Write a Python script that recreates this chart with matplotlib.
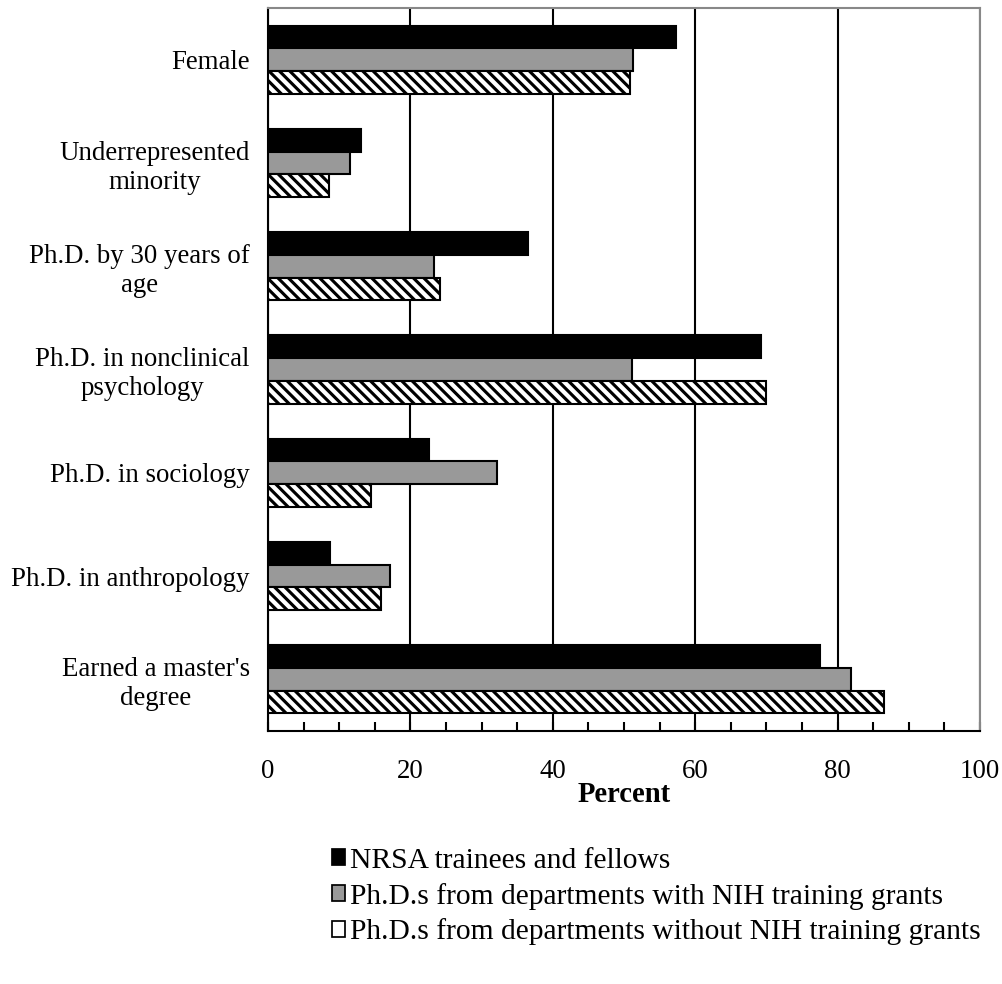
import numpy as np
import matplotlib.pyplot as plt
from matplotlib.patches import Patch
from matplotlib.ticker import MultipleLocator

plt.rcParams['font.family'] = 'Liberation Serif'
plt.rcParams['hatch.linewidth'] = 1.8

categories = ['Female', 'Underrepresented\nminority', 'Ph.D. by 30 years of\nage',
              'Ph.D. in nonclinical\npsychology', 'Ph.D. in sociology',
              'Ph.D. in anthropology', "Earned a master's\ndegree"]
nrsa = [57.3, 13.1, 36.5, 69.2, 22.6, 8.7, 77.5]
with_grants = [51.3, 11.5, 23.3, 51.1, 32.2, 17.1, 81.9]
without_grants = [50.8, 8.6, 24.2, 69.9, 14.5, 15.9, 86.5]
series_names = ['NRSA trainees and fellows',
                'Ph.D.s from departments with NIH training grants',
                'Ph.D.s from departments without NIH training grants']

fs = 15.5

fig = plt.figure(figsize=(8.024, 7.872), dpi=125)
ax = fig.add_axes([268 / 1003, 1 - 731 / 984, 712 / 1003, 723 / 984])

y = np.arange(len(categories))
h = 0.22
ax.barh(y - h, nrsa, h, color='black', edgecolor='black', linewidth=1.2, zorder=3)
ax.barh(y, with_grants, h, color='#999999', edgecolor='black', linewidth=1.2, zorder=3)
ax.barh(y + h, without_grants, h, color='white', edgecolor='black', hatch='\\\\\\\\',
        linewidth=1.2, zorder=3)

ax.set_ylim(len(categories) - 0.5, -0.5)
ax.set_xlim(0, 100)
ax.set_yticks(y)
ax.set_yticklabels(categories, fontsize=fs, multialignment='center')
ax.tick_params(axis='y', length=0, pad=10.5)

ax.xaxis.set_major_locator(MultipleLocator(20))
ax.xaxis.set_minor_locator(MultipleLocator(5))
ax.tick_params(axis='x', which='both', direction='in', length=5, width=1.2,
               labelsize=fs, pad=16)
ax.grid(axis='x', color='black', linewidth=1.2, zorder=1)

ax.spines['left'].set_linewidth(1.2)
ax.spines['bottom'].set_linewidth(1.2)
for s in ['top', 'right']:
    ax.spines[s].set_color('#888888')
    ax.spines[s].set_linewidth(1.2)

ax.set_xlabel('Percent', fontsize=16.5, fontweight='bold', labelpad=-1.5)

handles = [Patch(facecolor='black', edgecolor='black'),
           Patch(facecolor='#999999', edgecolor='black'),
           Patch(facecolor='white', edgecolor='black')]
fig.legend(handles, series_names, loc='upper left', bbox_to_anchor=(320 / 1003, 1 - 836 / 984),
           frameon=False, fontsize=17, handlelength=0.45, handleheight=0.45,
           handletextpad=0.18, labelspacing=0.3, borderaxespad=0)

fig.savefig('out.png', dpi=125)
